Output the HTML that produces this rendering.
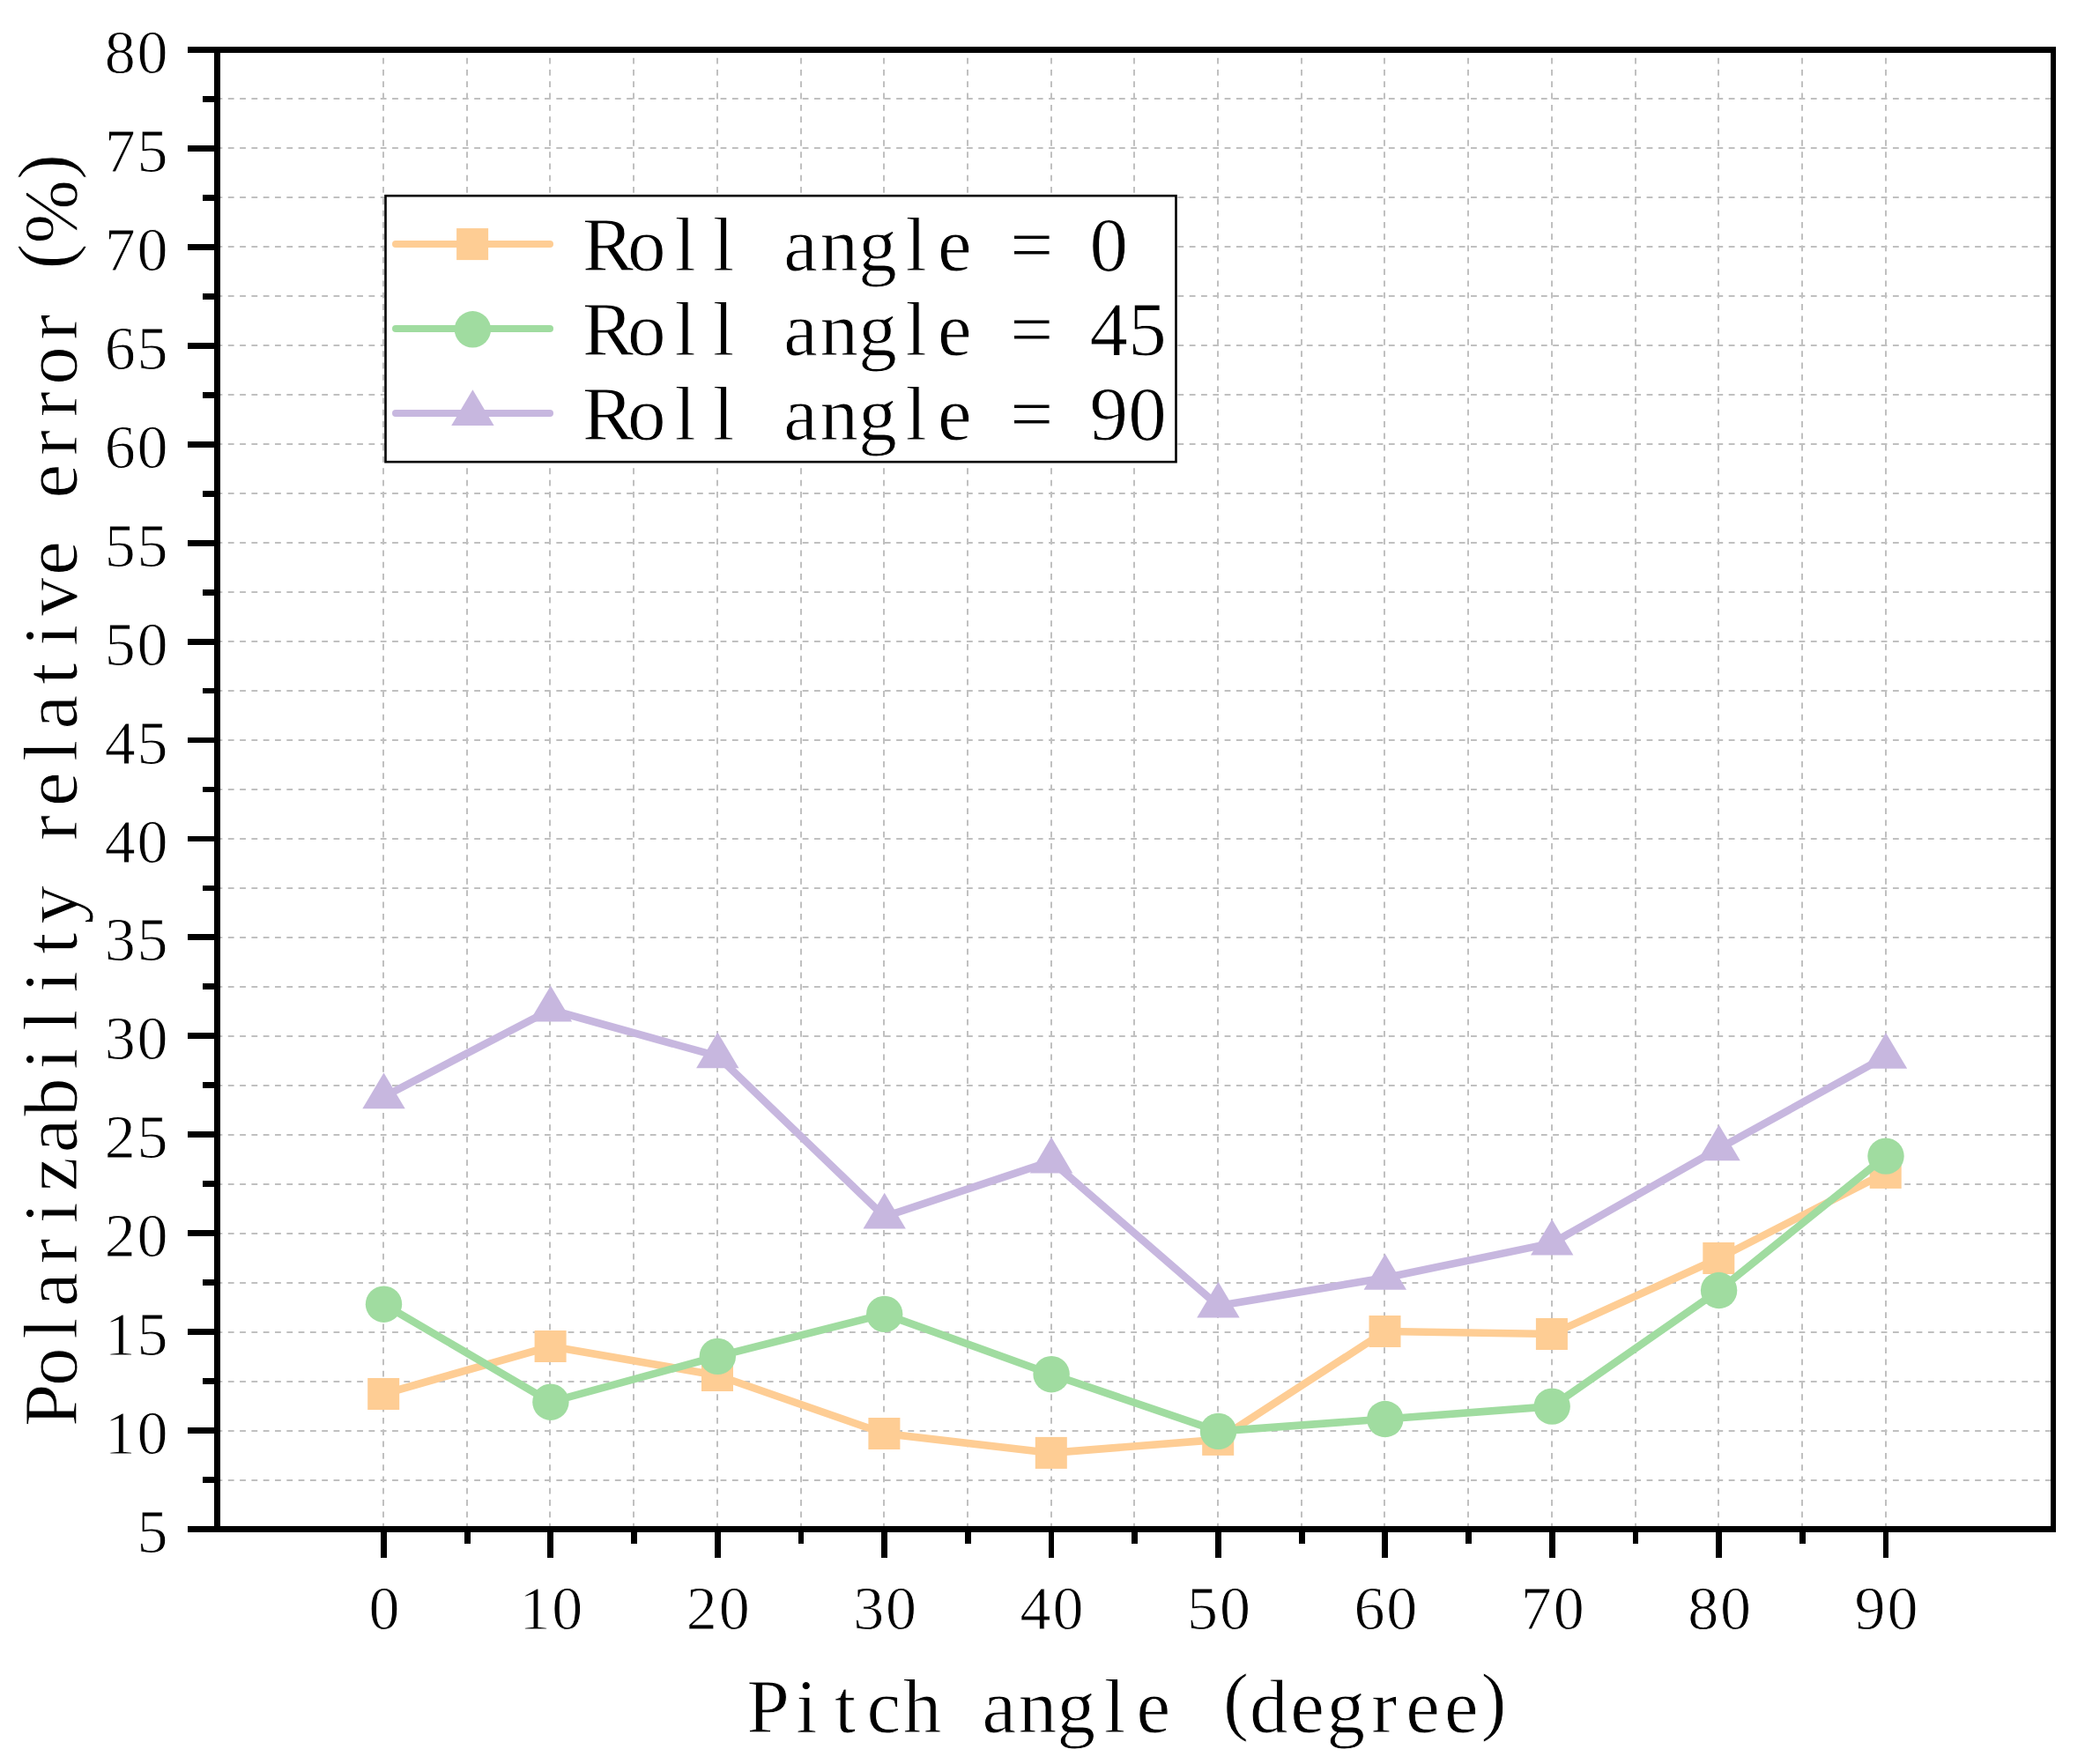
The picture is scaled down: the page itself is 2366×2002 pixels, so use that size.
<!DOCTYPE html>
<html lang="en"><head><meta charset="utf-8"><title>Polarizability relative error vs pitch angle</title>
<style>html,body{margin:0;padding:0;background:#fff}svg{display:block}text{font-family:"Liberation Serif", "Noto Serif CJK SC", serif;fill:#000;stroke:#fff;stroke-width:0.9px}</style></head><body>
<svg width="2366" height="2002" viewBox="0 0 2366 2002">
<rect width="2366" height="2002" fill="#fff"/>
<g stroke="#c0c0c0" stroke-width="2" stroke-dasharray="6.8 6.504" fill="none">
<line x1="245.5" y1="1680" x2="2330.0" y2="1680"/>
<line x1="245.5" y1="1624" x2="2330.0" y2="1624"/>
<line x1="245.5" y1="1568" x2="2330.0" y2="1568"/>
<line x1="245.5" y1="1512" x2="2330.0" y2="1512"/>
<line x1="245.5" y1="1456" x2="2330.0" y2="1456"/>
<line x1="245.5" y1="1400" x2="2330.0" y2="1400"/>
<line x1="245.5" y1="1344" x2="2330.0" y2="1344"/>
<line x1="245.5" y1="1288" x2="2330.0" y2="1288"/>
<line x1="245.5" y1="1232" x2="2330.0" y2="1232"/>
<line x1="245.5" y1="1176" x2="2330.0" y2="1176"/>
<line x1="245.5" y1="1120" x2="2330.0" y2="1120"/>
<line x1="245.5" y1="1064" x2="2330.0" y2="1064"/>
<line x1="245.5" y1="1008" x2="2330.0" y2="1008"/>
<line x1="245.5" y1="952" x2="2330.0" y2="952"/>
<line x1="245.5" y1="896" x2="2330.0" y2="896"/>
<line x1="245.5" y1="840" x2="2330.0" y2="840"/>
<line x1="245.5" y1="784" x2="2330.0" y2="784"/>
<line x1="245.5" y1="728" x2="2330.0" y2="728"/>
<line x1="245.5" y1="672" x2="2330.0" y2="672"/>
<line x1="245.5" y1="616" x2="2330.0" y2="616"/>
<line x1="245.5" y1="560" x2="2330.0" y2="560"/>
<line x1="245.5" y1="504" x2="2330.0" y2="504"/>
<line x1="245.5" y1="448" x2="2330.0" y2="448"/>
<line x1="245.5" y1="392" x2="2330.0" y2="392"/>
<line x1="245.5" y1="336" x2="2330.0" y2="336"/>
<line x1="245.5" y1="280" x2="2330.0" y2="280"/>
<line x1="245.5" y1="224" x2="2330.0" y2="224"/>
<line x1="245.5" y1="168" x2="2330.0" y2="168"/>
<line x1="245.5" y1="112" x2="2330.0" y2="112"/>
<line x1="435" y1="1735.5" x2="435" y2="56.5"/>
<line x1="530" y1="1735.5" x2="530" y2="56.5"/>
<line x1="624" y1="1735.5" x2="624" y2="56.5"/>
<line x1="719" y1="1735.5" x2="719" y2="56.5"/>
<line x1="814" y1="1735.5" x2="814" y2="56.5"/>
<line x1="909" y1="1735.5" x2="909" y2="56.5"/>
<line x1="1003" y1="1735.5" x2="1003" y2="56.5"/>
<line x1="1098" y1="1735.5" x2="1098" y2="56.5"/>
<line x1="1193" y1="1735.5" x2="1193" y2="56.5"/>
<line x1="1287" y1="1735.5" x2="1287" y2="56.5"/>
<line x1="1382" y1="1735.5" x2="1382" y2="56.5"/>
<line x1="1477" y1="1735.5" x2="1477" y2="56.5"/>
<line x1="1571" y1="1735.5" x2="1571" y2="56.5"/>
<line x1="1666" y1="1735.5" x2="1666" y2="56.5"/>
<line x1="1761" y1="1735.5" x2="1761" y2="56.5"/>
<line x1="1856" y1="1735.5" x2="1856" y2="56.5"/>
<line x1="1950" y1="1735.5" x2="1950" y2="56.5"/>
<line x1="2045" y1="1735.5" x2="2045" y2="56.5"/>
<line x1="2140" y1="1735.5" x2="2140" y2="56.5"/>
</g>
<polyline points="435.5,1582.0 624.9,1528.0 814.3,1561.0 1003.7,1627.0 1193.1,1648.9 1382.5,1633.9 1571.8,1511.0 1761.2,1514.0 1950.6,1428.0 2140.0,1330.9" fill="none" stroke="#FECD94" stroke-width="8.6" stroke-linejoin="round" stroke-linecap="round"/>
<rect x="417.2" y="1564.0" width="36" height="36" fill="#FECD94"/>
<rect x="606.6" y="1510.0" width="36" height="36" fill="#FECD94"/>
<rect x="796.0" y="1543.0" width="36" height="36" fill="#FECD94"/>
<rect x="985.4" y="1609.0" width="36" height="36" fill="#FECD94"/>
<rect x="1174.8" y="1630.9" width="36" height="36" fill="#FECD94"/>
<rect x="1364.2" y="1615.9" width="36" height="36" fill="#FECD94"/>
<rect x="1553.5" y="1493.0" width="36" height="36" fill="#FECD94"/>
<rect x="1742.9" y="1496.0" width="36" height="36" fill="#FECD94"/>
<rect x="1932.3" y="1410.0" width="36" height="36" fill="#FECD94"/>
<rect x="2121.7" y="1312.9" width="36" height="36" fill="#FECD94"/>
<polyline points="435.5,1480.2 624.9,1591.2 814.3,1539.4 1003.7,1491.4 1193.1,1559.7 1382.5,1624.4 1571.8,1610.5 1761.2,1596.1 1950.6,1464.5 2140.0,1312.1" fill="none" stroke="#A0DCA0" stroke-width="8.6" stroke-linejoin="round" stroke-linecap="round"/>
<circle cx="435.5" cy="1480.2" r="20.7" fill="#A0DCA0"/>
<circle cx="624.9" cy="1591.2" r="20.7" fill="#A0DCA0"/>
<circle cx="814.3" cy="1539.4" r="20.7" fill="#A0DCA0"/>
<circle cx="1003.7" cy="1491.4" r="20.7" fill="#A0DCA0"/>
<circle cx="1193.1" cy="1559.7" r="20.7" fill="#A0DCA0"/>
<circle cx="1382.5" cy="1624.4" r="20.7" fill="#A0DCA0"/>
<circle cx="1571.8" cy="1610.5" r="20.7" fill="#A0DCA0"/>
<circle cx="1761.2" cy="1596.1" r="20.7" fill="#A0DCA0"/>
<circle cx="1950.6" cy="1464.5" r="20.7" fill="#A0DCA0"/>
<circle cx="2140.0" cy="1312.1" r="20.7" fill="#A0DCA0"/>
<polyline points="435.5,1244.7 624.9,1146.0 814.3,1198.7 1003.7,1380.9 1193.1,1317.8 1382.5,1482.0 1571.8,1450.2 1761.2,1410.9 1950.6,1303.6 2140.0,1199.1" fill="none" stroke="#C7B7DF" stroke-width="8.6" stroke-linejoin="round" stroke-linecap="round"/>
<polygon points="435.5,1217.5 459.7,1258.3 411.3,1258.3" fill="#C7B7DF"/>
<polygon points="624.9,1118.8 649.1,1159.6 600.7,1159.6" fill="#C7B7DF"/>
<polygon points="814.3,1171.5 838.5,1212.3 790.1,1212.3" fill="#C7B7DF"/>
<polygon points="1003.7,1353.7 1027.9,1394.5 979.5,1394.5" fill="#C7B7DF"/>
<polygon points="1193.1,1290.6 1217.3,1331.4 1168.9,1331.4" fill="#C7B7DF"/>
<polygon points="1382.5,1454.8 1406.7,1495.6 1358.2,1495.6" fill="#C7B7DF"/>
<polygon points="1571.8,1423.0 1596.0,1463.8 1547.6,1463.8" fill="#C7B7DF"/>
<polygon points="1761.2,1383.7 1785.4,1424.5 1737.0,1424.5" fill="#C7B7DF"/>
<polygon points="1950.6,1276.4 1974.8,1317.2 1926.4,1317.2" fill="#C7B7DF"/>
<polygon points="2140.0,1171.9 2164.2,1212.7 2115.8,1212.7" fill="#C7B7DF"/>
<g fill="#000">
<rect x="213" y="53" width="2120" height="7"/>
<rect x="213" y="1732" width="2120" height="7"/>
<rect x="243" y="53" width="7" height="1686"/>
<rect x="2327" y="53" width="6" height="1686"/>
<rect x="230" y="1676" width="16" height="7"/>
<rect x="213" y="1620" width="33" height="7"/>
<rect x="230" y="1564" width="16" height="7"/>
<rect x="213" y="1508" width="33" height="7"/>
<rect x="230" y="1452" width="16" height="7"/>
<rect x="213" y="1396" width="33" height="7"/>
<rect x="230" y="1340" width="16" height="7"/>
<rect x="213" y="1284" width="33" height="7"/>
<rect x="230" y="1228" width="16" height="7"/>
<rect x="213" y="1172" width="33" height="7"/>
<rect x="230" y="1116" width="16" height="7"/>
<rect x="213" y="1060" width="33" height="7"/>
<rect x="230" y="1005" width="16" height="6"/>
<rect x="213" y="949" width="33" height="6"/>
<rect x="230" y="893" width="16" height="6"/>
<rect x="213" y="837" width="33" height="6"/>
<rect x="230" y="781" width="16" height="6"/>
<rect x="213" y="725" width="33" height="7"/>
<rect x="230" y="669" width="16" height="7"/>
<rect x="213" y="613" width="33" height="7"/>
<rect x="230" y="557" width="16" height="7"/>
<rect x="213" y="501" width="33" height="7"/>
<rect x="230" y="445" width="16" height="7"/>
<rect x="213" y="389" width="33" height="7"/>
<rect x="230" y="333" width="16" height="7"/>
<rect x="213" y="277" width="33" height="7"/>
<rect x="230" y="221" width="16" height="7"/>
<rect x="213" y="165" width="33" height="7"/>
<rect x="230" y="109" width="16" height="7"/>
<rect x="432" y="1735" width="7" height="33"/>
<rect x="527" y="1735" width="7" height="17"/>
<rect x="621" y="1735" width="7" height="33"/>
<rect x="716" y="1735" width="7" height="17"/>
<rect x="811" y="1735" width="7" height="33"/>
<rect x="906" y="1735" width="6" height="17"/>
<rect x="1000" y="1735" width="7" height="33"/>
<rect x="1095" y="1735" width="7" height="17"/>
<rect x="1190" y="1735" width="6" height="33"/>
<rect x="1284" y="1735" width="7" height="17"/>
<rect x="1379" y="1735" width="7" height="33"/>
<rect x="1474" y="1735" width="7" height="17"/>
<rect x="1568" y="1735" width="7" height="33"/>
<rect x="1663" y="1735" width="7" height="17"/>
<rect x="1758" y="1735" width="7" height="33"/>
<rect x="1853" y="1735" width="6" height="17"/>
<rect x="1947" y="1735" width="7" height="33"/>
<rect x="2042" y="1735" width="7" height="17"/>
<rect x="2137" y="1735" width="6" height="33"/>
</g>
<g font-size="70" text-anchor="middle">
<text x="173.0" y="1762.0">5</text>
<text x="136.2 173.1" y="1650.1">10</text>
<text x="136.2 173.1" y="1538.1">15</text>
<text x="136.2 173.1" y="1426.2">20</text>
<text x="136.2 173.1" y="1314.3">25</text>
<text x="136.2 173.1" y="1202.3">30</text>
<text x="136.2 173.1" y="1090.4">35</text>
<text x="136.2 173.1" y="978.5">40</text>
<text x="136.2 173.1" y="866.5">45</text>
<text x="136.2 173.1" y="754.6">50</text>
<text x="136.2 173.1" y="642.7">55</text>
<text x="136.2 173.1" y="530.7">60</text>
<text x="136.2 173.1" y="418.8">65</text>
<text x="136.2 173.1" y="306.9">70</text>
<text x="136.2 173.1" y="194.9">75</text>
<text x="136.2 173.1" y="83.0">80</text>
<text x="436.0" y="1848.5">0</text>
<text x="606.9 643.8" y="1848.5">10</text>
<text x="796.3 833.2" y="1848.5">20</text>
<text x="985.7 1022.6" y="1848.5">30</text>
<text x="1175.1 1212.0" y="1848.5">40</text>
<text x="1364.5 1401.4" y="1848.5">50</text>
<text x="1553.9 1590.8" y="1848.5">60</text>
<text x="1743.3 1780.2" y="1848.5">70</text>
<text x="1932.7 1969.6" y="1848.5">80</text>
<text x="2122.1 2159.0" y="1848.5">90</text>
</g>
<g font-size="87" text-anchor="middle">
<text x="871.6 915.3 959.0 1002.8 1046.5 1090.2 1133.8 1177.5 1221.2 1265.0 1308.7 1352.3 1402.5 1439.8 1483.5 1527.2 1570.8 1614.5 1658.2 1695.0" y="1966.0 1966.0 1966.0 1966.0 1966.0 1966.0 1966.0 1966.0 1966.0 1966.0 1966.0 1966.0 1958.5 1966.0 1966.0 1966.0 1966.0 1966.0 1966.0 1958.5">Pitch angle (degree)</text>
<text transform="translate(87.4,1616.8) rotate(-90)" x="21.9 65.6 109.2 153.0 196.7 240.4 284.1 327.8 371.5 415.2 458.9 502.6 546.2 590.0 633.7 677.4 721.1 764.8 808.5 852.2 895.9 939.6 983.3 1027.0 1070.7 1114.4 1158.1 1201.8 1245.5 1289.2 1376.6" y="0" dy="0 0 0 0 0 0 0 0 0 0 0 0 0 0 0 0 0 0 0 0 0 0 0 0 0 0 0 0 0 0 -7.5 7.5 -7.5">Polarizability relative error (%)</text>
</g>
<rect x="437.5" y="222.2" width="897" height="302" fill="#fff" stroke="#000" stroke-width="2.6"/>
<g font-size="87" text-anchor="middle">
<line x1="449" y1="277.1" x2="624" y2="277.1" stroke="#FECD94" stroke-width="8" stroke-linecap="round"/>
<rect x="518.1" y="259.1" width="36" height="36" fill="#FECD94"/>
<text x="690.1 733.8 777.5 821.2 864.9 908.6 952.2 996.0 1039.7 1083.4 1127.1 1170.8 1214.5 1258.2" y="306.7">Roll angle = 0</text>
<line x1="449" y1="373.0" x2="624" y2="373.0" stroke="#A0DCA0" stroke-width="8" stroke-linecap="round"/>
<circle cx="536.4" cy="373.8" r="20.7" fill="#A0DCA0"/>
<text x="690.1 733.8 777.5 821.2 864.9 908.6 952.2 996.0 1039.7 1083.4 1127.1 1170.8 1214.5 1258.2 1301.9" y="402.6">Roll angle = 45</text>
<line x1="449" y1="469.0" x2="624" y2="469.0" stroke="#C7B7DF" stroke-width="8" stroke-linecap="round"/>
<polygon points="536.4,442.2 560.6,483.0 512.2,483.0" fill="#C7B7DF"/>
<text x="690.1 733.8 777.5 821.2 864.9 908.6 952.2 996.0 1039.7 1083.4 1127.1 1170.8 1214.5 1258.2 1301.9" y="498.6">Roll angle = 90</text>
</g>
</svg></body></html>
